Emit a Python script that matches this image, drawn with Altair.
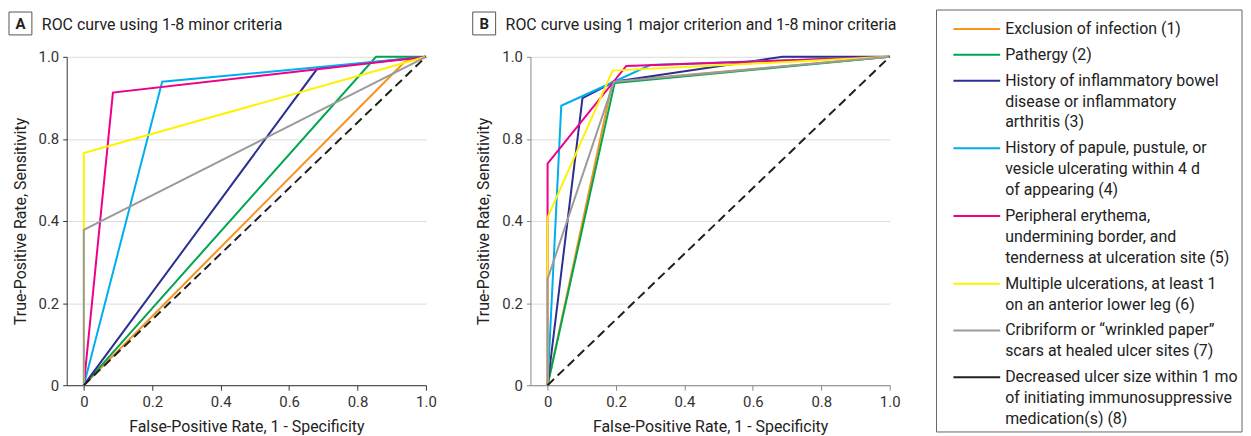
import altair as alt
import pandas as pd

FONT = "Roboto, 'Liberation Sans', sans-serif"

# ---------------- data ----------------
series_keys = ["1", "2", "3", "4", "5", "6", "7", "8"]
series_colors = ["#F7931E", "#00A650", "#2B2F8F", "#00AEEF", "#EC008C",
                 "#FFF200", "#9B9B9B", "#231F20"]
legend_labels = [
    "Exclusion of infection (1)",
    "Pathergy (2)",
    "History of inflammatory bowel\ndisease or inflammatory\narthritis (3)",
    "History of papule, pustule, or\nvesicle ulcerating within 4 d\nof appearing (4)",
    "Peripheral erythema,\nundermining border, and\ntenderness at ulceration site (5)",
    "Multiple ulcerations, at least 1\non an anterior lower leg (6)",
    "Cribriform or \u201cwrinkled paper\u201d\nscars at healed ulcer sites (7)",
    "Decreased ulcer size within 1 mo\nof initiating immunosuppressive\nmedication(s) (8)",
]

x_tick_values = [0, 0.2, 0.4, 0.6, 0.8, 1.0]
x_tick_labels = ["0", "0.2", "0.4", "0.6", "0.8", "1.0"]
y_tick_values = [0, 0.25, 0.5, 0.75, 1.0]
y_tick_labels = ["0", "0.2", "0.4", "0.8", "1.0"]

panel_letters = ["A", "B"]
panel_titles = ["ROC curve using 1-8 minor criteria",
                "ROC curve using 1 major criterion and 1-8 minor criteria"]

# Panel A (false-positive rate, true-positive rate)
a1_fpr = [0, 0.938, 1];            a1_tpr = [0, 0.985, 1]
a2_fpr = [0, 0.854, 1];            a2_tpr = [0, 1.0, 1]
a3_fpr = [0, 0.683, 1];            a3_tpr = [0, 0.965, 1]
a4_fpr = [0, 0.229, 0.683, 1];     a4_tpr = [0, 0.924, 0.968, 1]
a5_fpr = [0, 0.085, 0.683, 1];     a5_tpr = [0, 0.891, 0.962, 1]
a6_fpr = [0, 0, 1];                a6_tpr = [0, 0.707, 1]
a7_fpr = [0, 0, 1];                a7_tpr = [0, 0.473, 1]
a8_fpr = [0, 1];                   a8_tpr = [0, 1]

# Panel B
b1_fpr = [0, 0.190, 1];                  b1_tpr = [0, 0.925, 1]
b2_fpr = [0, 0.196, 1];                  b2_tpr = [0, 0.920, 1]
b3_fpr = [0, 0.102, 0.194, 0.687, 1];    b3_tpr = [0, 0.874, 0.924, 1.0, 1]
b4_fpr = [0, 0.040, 0.194, 0.300, 1];    b4_tpr = [0, 0.851, 0.924, 0.975, 1]
b5_fpr = [0, 0, 0.230, 1];               b5_tpr = [0, 0.675, 0.972, 1]
b6_fpr = [0, 0, 0.190, 1];               b6_tpr = [0, 0.510, 0.958, 1]
b7_fpr = [0, 0, 0.194, 1];               b7_tpr = [0, 0.323, 0.924, 1]
b8_fpr = [0, 1];                         b8_tpr = [0, 1]

A_FPR = [a1_fpr, a2_fpr, a3_fpr, a4_fpr, a5_fpr, a6_fpr, a7_fpr, a8_fpr]
A_TPR = [a1_tpr, a2_tpr, a3_tpr, a4_tpr, a5_tpr, a6_tpr, a7_tpr, a8_tpr]
B_FPR = [b1_fpr, b2_fpr, b3_fpr, b4_fpr, b5_fpr, b6_fpr, b7_fpr, b8_fpr]
B_TPR = [b1_tpr, b2_tpr, b3_tpr, b4_tpr, b5_tpr, b6_tpr, b7_tpr, b8_tpr]


def label_expr(values, labels):
    expr = "''"
    for v, l in reversed(list(zip(values, labels))):
        expr = f"abs(datum.value - {v}) < 1e-6 ? '{l}' : ({expr})"
    return expr


color_scale = alt.Scale(domain=series_keys, range=series_colors)
PLOT_W, PLOT_H = 361, 330


def panel(letter, title, fprs, tprs, axis_color):
    rows = []
    for k, xs, ys in zip(series_keys, fprs, tprs):
        for i, (x, y) in enumerate(zip(xs, ys)):
            rows.append({"key": k, "i": i, "fpr": x, "tpr": y})
    df = pd.DataFrame(rows)

    xenc = alt.X(
        "fpr:Q",
        scale=alt.Scale(domain=[-0.05, 1.0], nice=False, zero=False),
        axis=alt.Axis(values=x_tick_values,
                      labelExpr=label_expr(x_tick_values, x_tick_labels),
                      title="False-Positive Rate, 1 - Specificity",
                      grid=False, domainColor=axis_color, tickColor=axis_color,
                      tickSize=5, labelPadding=4, titlePadding=10,
                      labelFlush=False),
    )
    yenc = alt.Y(
        "tpr:Q",
        scale=alt.Scale(domain=[0, 1.0], nice=False, zero=False),
        axis=alt.Axis(values=y_tick_values,
                      labelExpr=label_expr(y_tick_values, y_tick_labels),
                      title="True-Positive Rate, Sensitivity",
                      grid=True, gridColor="#dcdcdc", gridWidth=1,
                      domainColor=axis_color, tickColor=axis_color,
                      tickSize=4, labelPadding=4, titlePadding=10,
                      labelFlush=False),
    )
    color = alt.Color("key:N", scale=color_scale, legend=None)

    solid = alt.Chart(df).transform_filter("datum.key != '8'").mark_line(
        strokeWidth=2).encode(x=xenc, y=yenc, color=color, order="i:Q")
    dashed = alt.Chart(df).transform_filter("datum.key == '8'").mark_line(
        strokeWidth=2, strokeDash=[9, 5]).encode(x=xenc, y=yenc, color=color, order="i:Q")

    deco = pd.DataFrame({"letter": [letter], "title": [title]})
    box = alt.Chart(deco).mark_rect(fill="white", stroke="#555", strokeWidth=1).encode(
        x=alt.value(-58), x2=alt.value(-35), y=alt.value(-45), y2=alt.value(-22))
    letter_t = alt.Chart(deco).mark_text(fontSize=15, fontWeight="bold", align="center",
                                         baseline="middle", color="#222").encode(
        x=alt.value(-46.5), y=alt.value(-33), text="letter:N")
    title_t = alt.Chart(deco).mark_text(fontSize=16, align="left", baseline="alphabetic",
                                        color="#222").encode(
        x=alt.value(-25), y=alt.value(-27), text="title:N")

    return alt.layer(solid, dashed, box, letter_t, title_t).properties(width=PLOT_W, height=PLOT_H)


chartA = panel(panel_letters[0], panel_titles[0], A_FPR, A_TPR, "#333333")
chartB = panel(panel_letters[1], panel_titles[1], B_FPR, B_TPR, "#888888")

# ---------------- legend ----------------
leg_rows = []
line_idx = 0
for e, (k, lab) in enumerate(zip(series_keys, legend_labels)):
    leg_rows.append({"key": k, "label": lab, "pos": line_idx + e * 5 / 21})
    line_idx += lab.count("\n") + 1
leg_df = pd.DataFrame(leg_rows)

LEG_W = 307
LEG_TOP = -47        # box top, relative to the plot-area top of the panels
LEG_BOTTOM = 377     # box bottom
FIRST_LINE = -28     # centre of first legend line
LINE_H = 21

yl = alt.Y("pos:Q", axis=None,
           scale=alt.Scale(domain=[-FIRST_LINE / LINE_H, (LEG_BOTTOM - FIRST_LINE) / LINE_H],
                           reverse=True, nice=False, zero=False))
leg_box = alt.Chart(pd.DataFrame({"k": ["box"]})).mark_rect(
    fill="white", stroke="#666666", strokeWidth=1).encode(
    x=alt.value(0), x2=alt.value(LEG_W), y=alt.value(LEG_TOP), y2=alt.value(LEG_BOTTOM))
leg_rule = alt.Chart(leg_df).mark_rule(strokeWidth=2).encode(
    x=alt.value(17), x2=alt.value(64), y=yl,
    color=alt.Color("key:N", scale=color_scale, legend=None))
leg_text = alt.Chart(leg_df).mark_text(align="left", baseline="alphabetic", dy=5,
                                       lineBreak="\n", lineHeight=LINE_H, fontSize=16,
                                       color="#222").encode(
    x=alt.value(69), y=yl, text="label:N")
legend = alt.layer(leg_box, leg_rule, leg_text).properties(width=LEG_W, height=LEG_BOTTOM)

chart = alt.hconcat(chartA, chartB, legend, spacing=35).properties(
    padding={"left": 0, "top": 0, "right": 0, "bottom": 0}
).configure_view(stroke=None).configure_axis(
    labelFont=FONT, titleFont=FONT, labelFontSize=15, titleFontSize=16,
    labelColor="#333333", titleColor="#222222", titleFontWeight="normal"
).configure_text(font=FONT)

chart.save("out.html", embed_options={"renderer": "svg", "actions": False})
